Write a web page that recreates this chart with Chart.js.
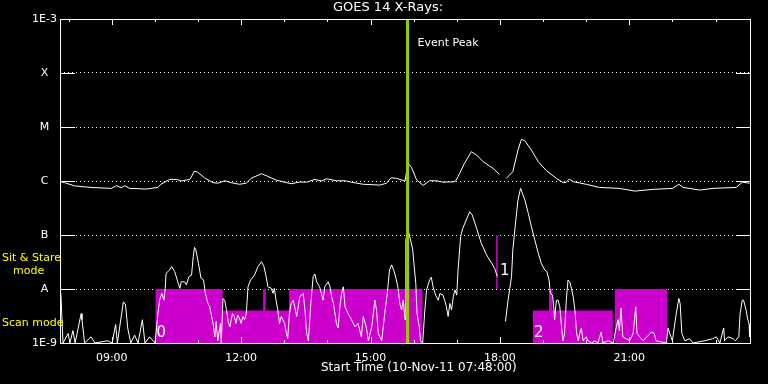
<!DOCTYPE html>
<html>
<head>
<meta charset="utf-8">
<script src="https://cdn.jsdelivr.net/npm/chart.js@4/dist/chart.umd.min.js"></script>
<style>
  html, body { margin: 0; padding: 0; background: #000; }
  canvas { display: block; }
</style>
</head>
<body>
<canvas id="goesCanvas" width="768" height="384"></canvas>
<script>
// time in decimal hours (10-Nov-11), flux in W/m^2
var longTimes = [
  7.82, 7.91, 8.14, 8.52, 8.99, 9.11, 9.22, 9.30, 9.41, 9.80,
  10.07, 10.14, 10.34, 10.50, 10.61, 10.81, 10.92, 10.99, 11.15, 11.35,
  11.46, 11.62, 11.77, 11.96, 12.12, 12.23, 12.47, 12.62, 12.81, 13.16,
  13.36, 13.52, 13.71, 13.86, 13.98, 14.21, 14.41, 14.56, 14.83, 15.22,
  15.37, 15.48, 15.60, 15.80, 15.87, 15.95, 16.07, 16.22, 16.37, 16.53,
  16.68, 16.96, 17.03, 17.18, 17.34, 17.46, 17.61, 17.84, 17.99, 18.08,
  18.15, 18.30, 18.42, 18.50, 18.58, 18.73, 18.89, 19.08, 19.31, 19.47,
  19.54, 19.61, 19.70, 20.00, 20.31, 20.77, 21.13, 21.55, 22.01, 22.15,
  22.25, 22.63, 22.94, 23.48, 23.62, 23.79
];
var longFlux = [
  9.7e-7, 9.3e-7, 8.1e-7, 7.6e-7, 7.3e-7, 8.2e-7, 7.5e-7, 8.2e-7, 7.3e-7, 7.1e-7,
  7.6e-7, 8.7e-7, 1.07e-6, 1.07e-6, 1.0e-6, 1.07e-6, 1.53e-6, 1.45e-6, 1.15e-6, 9.3e-7,
  9.1e-7, 1.01e-6, 9.3e-7, 8.7e-7, 9.1e-7, 1.12e-6, 1.36e-6, 1.22e-6, 1.04e-6, 8.9e-7,
  9.6e-7, 9.5e-7, 1.07e-6, 1.0e-6, 1.1e-6, 1.01e-6, 1.01e-6, 9.5e-7, 8.7e-7, 8.4e-7,
  9.1e-7, 1.15e-6, 1.12e-6, 1.0e-6, 2.13e-6, 1.79e-6, 1.04e-6, 8.3e-7, 1.01e-6, 1.01e-6,
  9.5e-7, 9.7e-7, 1.2e-6, 2.13e-6, 3.49e-6, 3.03e-6, 2.28e-6, 1.72e-6, 1.33e-6, null,
  1.12e-6, 1.49e-6, 3.75e-6, 5.91e-6, 5.57e-6, 3.75e-6, 2.28e-6, 1.55e-6, 1.12e-6, 9.3e-7,
  9.5e-7, 1.09e-6, 9.7e-7, 8.7e-7, 7.6e-7, 7.3e-7, 6.5e-7, 7.0e-7, 7.3e-7, 8.7e-7,
  7.6e-7, 6.8e-7, 7.3e-7, 7.6e-7, 9.5e-7, 9.1e-7
];

var shortTimes = [
  7.82, 7.87, 7.99, 8.03, 8.10, 8.15, 8.29, 8.31, 8.37, 8.52,
  8.61, 8.91, 9.01, 9.09, 9.13, 9.27, 9.32, 9.37, 9.44, 9.53,
  9.61, 9.71, 9.77, 9.88, 10.00, 10.03, 10.07, 10.11, 10.16, 10.21,
  10.24, 10.26, 10.34, 10.39, 10.46, 10.54, 10.58, 10.61, 10.69, 10.73,
  10.79, 10.85, 10.89, 10.92, 10.95, 11.01, 11.07, 11.13, 11.17, 11.23,
  11.27, 11.31, 11.35, 11.39, 11.42, 11.46, 11.52, 11.54, 11.58, 11.62,
  11.66, 11.70, 11.74, 11.77, 11.80, 11.84, 11.88, 11.92, 11.96, 12.00,
  12.04, 12.08, 12.12, 12.16, 12.22, 12.31, 12.39, 12.47, 12.53, 12.58,
  12.62, 12.70, 12.74, 12.77, 12.81, 12.85, 12.89, 12.93, 13.01, 13.05,
  13.08, 13.12, 13.16, 13.21, 13.29, 13.36, 13.44, 13.48, 13.52, 13.56,
  13.61, 13.67, 13.71, 13.75, 13.82, 13.86, 13.90, 13.94, 14.02, 14.06,
  14.10, 14.14, 14.21, 14.25, 14.29, 14.33, 14.37, 14.41, 14.48, 14.56,
  14.64, 14.71, 14.79, 14.83, 14.90, 14.95, 15.03, 15.10, 15.14, 15.18,
  15.26, 15.34, 15.39, 15.44, 15.49, 15.55, 15.60, 15.64, 15.68, 15.72,
  15.76, 15.80, 15.82, 15.87, 15.93, 15.98, 16.01, 16.05, 16.08, 16.13,
  16.16, 16.21, 16.26, 16.30, 16.37, 16.41, 16.45, 16.51, 16.57, 16.61,
  16.68, 16.72, 16.76, 16.80, 16.84, 16.88, 16.92, 16.96, 17.00, 17.03,
  17.09, 17.14, 17.22, 17.30, 17.36, 17.46, 17.57, 17.69, 17.81, 17.88,
  17.94, 18.00, 18.13, 18.19, 18.23, 18.27, 18.30, 18.37, 18.42, 18.48,
  18.58, 18.66, 18.73, 18.81, 18.89, 18.96, 19.04, 19.09, 19.14, 19.17,
  19.22, 19.25, 19.27, 19.31, 19.35, 19.39, 19.43, 19.46, 19.50, 19.54,
  19.58, 19.62, 19.66, 19.70, 19.74, 19.78, 19.82, 19.85, 19.89, 19.93,
  20.00, 20.04, 20.13, 20.20, 20.27, 20.35, 20.39, 20.51, 20.63, 20.70,
  20.74, 20.77, 20.81, 20.85, 21.01, 21.09, 21.15, 21.18, 21.32, 21.52,
  21.58, 21.62, 21.86, 21.90, 21.94, 22.00, 22.09, 22.15, 22.18, 22.22,
  22.29, 22.40, 22.48, 22.75, 22.93, 23.02, 23.10, 23.19, 23.21, 23.29,
  23.41, 23.46, 23.54, 23.57, 23.62, 23.65, 23.71, 23.74, 23.78, 23.79
];
var shortFlux = [
  8.3e-9, 1e-9, 1.5e-9, 1e-9, 1.7e-9, 1e-9, 3.5e-9, 2.7e-9, 1e-9, 1.3e-9,
  1e-9, 1.1e-9, 1e-9, 2.2e-9, 1e-9, 5.8e-9, 5.1e-9, 1.9e-9, 1e-9, 1.4e-9,
  1e-9, 2.7e-9, 1e-9, 1.3e-9, 1e-9, 1.6e-9, 3.5e-9, 6.2e-9, 8.3e-9, 6.2e-9,
  1.03e-8, 1.95e-8, 2.25e-8, 2.6e-8, 2.1e-8, 1.28e-8, 1.03e-8, 1.36e-8, 1.36e-8, 1.19e-8,
  1.7e-8, 1.8e-8, 4.0e-8, 5.9e-8, 5.3e-8, 3.0e-8, 1.58e-8, 1.47e-8, 8.3e-9, 5.4e-9,
  4.7e-9, 3.3e-9, 2.3e-9, 1.3e-9, 2.5e-9, 1.1e-9, 2.3e-9, 1e-9, 6.7e-9, 6.2e-9,
  4.1e-9, 2.5e-9, 2.0e-9, 2.7e-9, 3.5e-9, 3.1e-9, 2.3e-9, 3.3e-9, 2.9e-9, 2.3e-9,
  3.1e-9, 2.7e-9, 3.5e-9, 1.1e-8, 1.47e-8, 1.8e-8, 2.6e-8, 3.2e-8, 2.6e-8, 1.7e-8,
  1.1e-8, 1.03e-8, 8.3e-9, 1.03e-8, 6.2e-9, 4.1e-9, 2.3e-9, 3.1e-9, 2.3e-9, 1.5e-9,
  1.2e-9, 3.5e-9, 5.4e-9, 6.2e-9, 3.1e-9, 7.2e-9, 8.3e-9, 4.1e-9, 1.5e-9, 1.1e-9,
  4.7e-9, 1.7e-8, 1.9e-8, 1.36e-8, 1.1e-8, 8.3e-9, 6.2e-9, 1.1e-8, 1.36e-8, 1.1e-8,
  7.2e-9, 5.4e-9, 2.3e-9, 1.9e-9, 4.7e-9, 8.3e-9, 1.1e-8, 4.7e-9, 3.5e-9, 2.7e-9,
  2.0e-9, 2.3e-9, 1.3e-9, 3.1e-9, 2.0e-9, 1.1e-9, 2.0e-9, 6.2e-9, 4.1e-9, 1.5e-9,
  1.1e-9, 4.1e-9, 8.3e-9, 2.25e-8, 2.8e-8, 2.1e-8, 1.47e-8, 1.03e-8, 5.4e-9, 4.1e-9,
  6.2e-9, 2.7e-9, 8.1e-8, 1.24e-7, 8.1e-8, 5.3e-8, 2.8e-8, 1.28e-8, 3.5e-9, 2.0e-9,
  1.1e-9, 1e-9, 4.1e-9, 9.6e-9, 1.47e-8, 1.65e-8, 1.1e-8, 7.7e-9, 6.2e-9, 8.3e-9,
  7.7e-9, 6.2e-9, 4.7e-9, 3.1e-9, 5.4e-9, 4.1e-9, 7.2e-9, 9.6e-9, 7.7e-9, 2.25e-8,
  9.3e-8, 1.33e-7, 1.9e-7, 2.7e-7, 2.34e-7, 1.33e-7, 7.0e-8, 4.3e-8, 3.0e-8, 2.4e-8,
  1.7e-8, null, 2.5e-9, 6.2e-9, 1.03e-8, 1.7e-8, 5.3e-8, 1.9e-7, 4.45e-7, 7.3e-7,
  4.45e-7, 2.5e-7, 1.43e-7, 8.1e-8, 4.6e-8, 3.0e-8, 2.25e-8, 2.1e-8, 1.47e-8, 8.3e-9,
  7.7e-9, 4.7e-9, 2.7e-9, 6.2e-9, 6.2e-9, 4.7e-9, 2.0e-9, 1.1e-9, 1.5e-9, 6.2e-9,
  1.47e-8, 1.36e-8, 1.03e-8, 7.2e-9, 4.1e-9, 1.5e-9, 1.1e-9, 1.5e-9, 1.9e-9, 1.1e-9,
  1.3e-9, 1.1e-9, 1e-9, 1.1e-9, 1e-9, 1.6e-9, 1e-9, 1.1e-9, 1e-9, 2.0e-9,
  2.7e-9, 1.7e-9, 4.4e-9, 1.3e-9, 1.1e-9, 1.5e-9, 4.7e-9, 1.5e-9, 1.1e-9, 1.6e-9,
  1.5e-9, 1.1e-9, 1e-9, 1.9e-9, 1.5e-9, 1.1e-9, 3.5e-9, 6.7e-9, 5.4e-9, 1.5e-9,
  1.1e-9, 1.2e-9, 1e-9, 1.1e-9, 1.2e-9, 1.3e-9, 1e-9, 1.9e-9, 1.1e-9, 1.3e-9,
  1.2e-9, 1.1e-9, 1.3e-9, 3.5e-9, 6.2e-9, 6.2e-9, 4.1e-9, 2.9e-9, 2.2e-9, 1.3e-9
];

// observing mode blocks (sit & stare up to A, scan mode lower)
var modeStart = [10.01, 11.57, 12.51, 12.57, 13.11, 18.76, 19.14, 19.22, 20.66];
var modeEnd   = [11.57, 12.51, 12.57, 13.11, 16.21, 19.14, 19.22, 20.62, 21.88];
var modeFlux  = [1e-8, 4e-9, 1e-8, 4e-9, 1e-8, 4e-9, 1e-8, 4e-9, 1e-8];

var modeLabels     = ['0', '1', '2'];
var modeLabelTimes = [10.04, 18.00, 18.79];
var modeLabelFlux  = [1.5e-9, 2.15e-8, 1.5e-9];

var markerTime = 17.93;
var markerFlux = [1e-7, 1e-8];

var eventPeakTime = 15.86;

var yTickValues = [1e-9, 1e-8, 1e-7, 1e-6, 1e-5, 1e-4, 1e-3];
var yTickLabels = ['1E-9', 'A', 'B', 'C', 'M', 'X', '1E-3'];
var xLabelHours = [9, 12, 15, 18, 21];
var xTickHours  = [8, 9, 10, 11, 12, 13, 14, 15, 16, 17, 18, 19, 20, 21, 22, 23];
var xTitle = 'Start Time (10-Nov-11 07:48:00)';

function zip(xs, ys) {
  return xs.map(function (t, i) { return {x: t, y: ys[i]}; });
}

// merge touching blocks into stepped runs
var modeRuns = [];
var run = null;
modeStart.forEach(function (s, i) {
  if (!run || modeEnd[i - 1] !== s) { run = []; modeRuns.push(run); }
  run.push({x: s, y: modeFlux[i]});
  if (i === modeStart.length - 1 || modeStart[i + 1] !== modeEnd[i]) {
    run.push({x: modeEnd[i], y: modeFlux[i]});
  }
});

var datasets = [
  {
    data: [{x: eventPeakTime, y: 1e-3}, {x: eventPeakTime, y: 1e-9}],
    borderColor: '#99cc00', borderWidth: 3, pointRadius: 0, order: 0
  },
  {
    data: zip(longTimes, longFlux),
    borderColor: '#ffffff', borderWidth: 1, pointRadius: 0, order: 1
  },
  {
    data: zip(shortTimes, shortFlux),
    borderColor: '#ffffff', borderWidth: 1, pointRadius: 0, order: 1
  },
  {
    data: [{x: markerTime, y: markerFlux[0]}, {x: markerTime, y: markerFlux[1]}],
    borderColor: '#bb00bb', borderWidth: 1, pointRadius: 0, order: 2
  }
];
modeRuns.forEach(function (r) {
  datasets.push({
    data: r,
    stepped: true,
    fill: 'start',
    backgroundColor: '#cc00cc',
    borderColor: 'rgba(0,0,0,0)',
    borderWidth: 0,
    pointRadius: 0,
    order: 3
  });
});

var font = {family: 'DejaVu Sans', size: 11};

var decorations = {
  id: 'decorations',
  afterDraw: function (chart) {
    var ctx = chart.ctx, a = chart.chartArea;
    var x = chart.scales.x, y = chart.scales.y;
    ctx.save();
    ctx.strokeStyle = '#ffffff';
    ctx.lineWidth = 1;
    ctx.strokeRect(a.left + 0.5, a.top + 0.5, a.right - a.left, a.bottom - a.top);

    ctx.beginPath();
    yTickValues.forEach(function (v) {
      var py = Math.round(y.getPixelForValue(v)) + 0.5;
      ctx.moveTo(a.left, py); ctx.lineTo(a.left + 15, py);
      ctx.moveTo(a.right - 14, py); ctx.lineTo(a.right, py);
    });
    xTickHours.forEach(function (h) {
      var px = Math.round(x.getPixelForValue(h)) + 0.5;
      var len = (h % 3 === 0) ? 6 : 3;
      ctx.moveTo(px, a.top); ctx.lineTo(px, a.top + len);
      ctx.moveTo(px, a.bottom); ctx.lineTo(px, a.bottom - len);
    });
    ctx.stroke();

    ctx.fillStyle = '#ffffff';
    ctx.textBaseline = 'middle';
    ctx.textAlign = 'center';
    ctx.font = '12px "DejaVu Sans"';
    ctx.fillText(xTitle, a.left + (a.right - a.left) * 0.52, a.bottom + 25);

    ctx.textAlign = 'left';
    ctx.font = '11px "DejaVu Sans"';
    ctx.fillText('Event Peak', x.getPixelForValue(eventPeakTime) + 10, a.top + 24);

    ctx.font = '15px "DejaVu Sans"';
    modeLabels.forEach(function (t, i) {
      ctx.fillText(t, x.getPixelForValue(modeLabelTimes[i]), y.getPixelForValue(modeLabelFlux[i]));
    });

    var yA = y.getPixelForValue(1e-8);
    ctx.fillStyle = '#ffff00';
    ctx.font = '11px "DejaVu Sans"';
    ctx.fillText('Sit & Stare', 2, yA - 30.5);
    ctx.fillText('mode', 13, yA - 18);
    ctx.fillText('Scan mode', 2, yA + 34.5);
    ctx.restore();
  }
};

new Chart(document.getElementById('goesCanvas'), {
  type: 'line',
  data: {datasets: datasets},
  options: {
    responsive: false,
    animation: false,
    devicePixelRatio: 1,
    layout: {padding: {left: 8, right: 0, top: 0, bottom: 0}},
    elements: {line: {tension: 0}},
    plugins: {
      legend: {display: false},
      tooltip: {enabled: false},
      title: {
        display: true,
        text: 'GOES 14 X-Rays:',
        color: '#ffffff',
        font: {family: 'DejaVu Sans', size: 13, weight: 'normal', lineHeight: '14px'},
        padding: {top: 1, bottom: 4}
      }
    },
    scales: {
      x: {
        type: 'linear',
        position: 'bottom',
        min: 7.8,
        max: 23.8,
        grid: {display: false, drawTicks: false},
        border: {display: false},
        afterBuildTicks: function (scale) {
          scale.ticks = xLabelHours.map(function (h) { return {value: h}; });
        },
        afterFit: function (scale) { scale.height = 41; },
        ticks: {
          color: '#ffffff', font: font, padding: 9, maxRotation: 0, autoSkip: false,
          callback: function (v) { return (v < 10 ? '0' : '') + v + ':00'; }
        }
      },
      y: {
        type: 'logarithmic',
        position: 'left',
        min: 1e-9,
        max: 1e-3,
        grid: {color: '#ffffff', lineWidth: 1, drawTicks: false},
        border: {display: false, dash: [1, 3]},
        afterBuildTicks: function (scale) {
          scale.ticks = yTickValues.map(function (v) { return {value: v}; });
        },
        afterFit: function (scale) { scale.width = 52; },
        ticks: {
          color: '#ffffff', font: font, padding: 3, crossAlign: 'center', autoSkip: false,
          callback: function (v) { return yTickLabels[yTickValues.indexOf(v)]; }
        }
      },
      y2: {
        type: 'logarithmic',
        position: 'right',
        min: 1e-9,
        max: 1e-3,
        grid: {display: false, drawTicks: false},
        border: {display: false},
        ticks: {display: false},
        afterFit: function (scale) { scale.width = 18; }
      }
    }
  },
  plugins: [decorations]
});
</script>
</body>
</html>
